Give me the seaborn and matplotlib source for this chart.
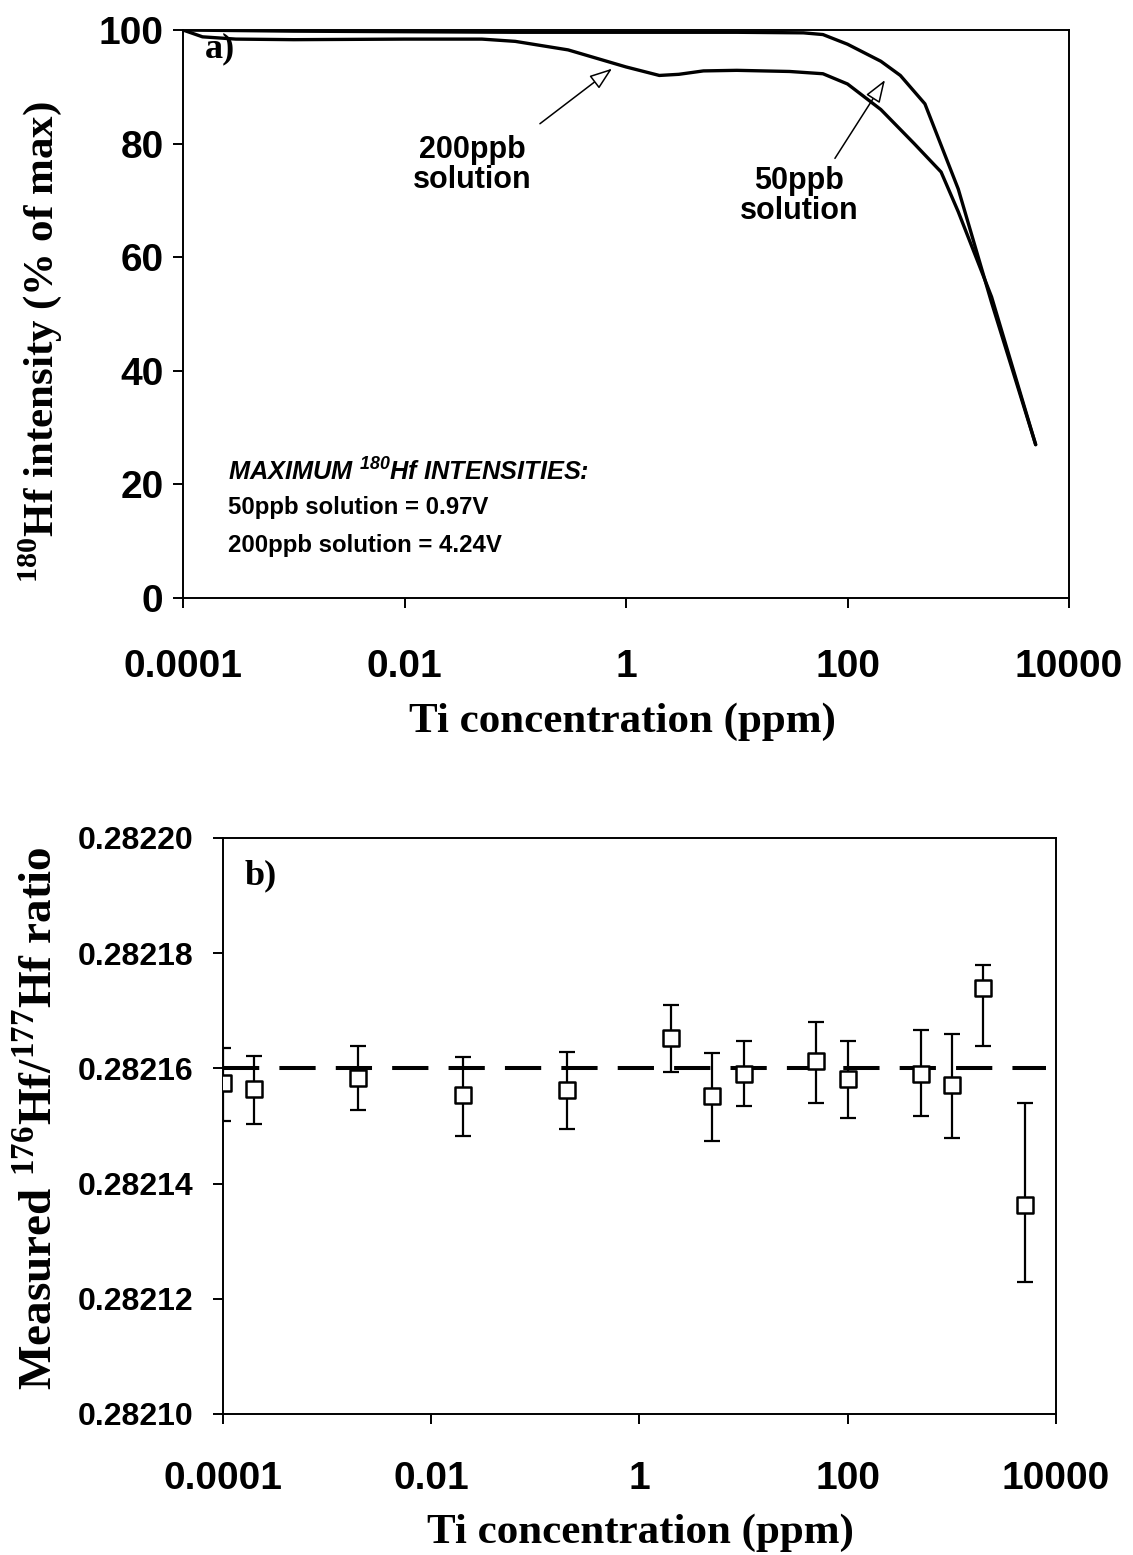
import numpy as np
import pandas as pd
import matplotlib
matplotlib.use('Agg')
import matplotlib.pyplot as plt
import seaborn as sns
from matplotlib.ticker import FixedLocator, NullLocator, FixedFormatter

# ---------------- Panel a) data ----------------
conc_200ppb = [1e-4, 1.5e-4, 3e-4, 1e-3, 1e-2, 0.05, 0.1, 0.3, 1, 2, 3, 5, 10, 30, 60, 100, 200, 400, 700, 1000, 2000, 5000]
int_200ppb = [100, 98.8, 98.4, 98.3, 98.4, 98.4, 98.0, 96.5, 93.5, 92.0, 92.2, 92.8, 92.9, 92.7, 92.3, 90.5, 86.0, 80.0, 75.0, 68.0, 53.0, 27.0]
conc_50ppb = [1e-4, 1e-3, 1e-2, 0.1, 1, 10, 40, 60, 100, 200, 300, 500, 1000, 2000, 5000]
int_50ppb = [100, 99.8, 99.7, 99.6, 99.6, 99.6, 99.5, 99.2, 97.5, 94.5, 92.0, 87.0, 72.0, 52.0, 27.0]

xticks_a = [1e-4, 1e-2, 1, 1e2, 1e4]
xticklabels_a = ['0.0001', '0.01', '1', '100', '10000']
yticks_a = [0, 20, 40, 60, 80, 100]

# ---------------- Panel b) data ----------------
conc_b = [1e-4, 2e-4, 2e-3, 2e-2, 0.2, 2, 5, 10, 50, 100, 500, 1000, 2000, 5000]
ratio_b = [0.2821575, 0.2821564, 0.2821584, 0.2821553, 0.2821563, 0.2821652, 0.2821552,
           0.2821591, 0.2821612, 0.2821582, 0.2821591, 0.2821572, 0.2821740, 0.2821363]
upper_b = [0.2821635, 0.2821622, 0.2821639, 0.2821620, 0.2821628, 0.2821710, 0.2821627,
           0.2821647, 0.2821680, 0.2821647, 0.2821666, 0.2821660, 0.2821780, 0.2821540]
lower_b = [0.2821509, 0.2821503, 0.2821527, 0.2821483, 0.2821495, 0.2821594, 0.2821474,
           0.2821535, 0.2821540, 0.2821514, 0.2821517, 0.2821480, 0.2821639, 0.2821229]
ref_ratio = 0.28216
ref_span = [1e-4, 8e3]
yticks_b = [0.28210, 0.28212, 0.28214, 0.28216, 0.28218, 0.28220]
yticklabels_b = ['0.28210', '0.28212', '0.28214', '0.28216', '0.28218', '0.28220']

# ---------------- style ----------------
sns.set_style('ticks')
plt.rcParams['font.family'] = ['Liberation Sans', 'DejaVu Sans']
plt.rcParams['mathtext.fontset'] = 'custom'
plt.rcParams['mathtext.rm'] = 'Liberation Serif:bold'
plt.rcParams['mathtext.bf'] = 'Liberation Serif:bold'
plt.rcParams['axes.linewidth'] = 1.4
plt.rcParams['axes.edgecolor'] = 'black'
plt.rcParams['text.color'] = 'black'
plt.rcParams['axes.labelcolor'] = 'black'
plt.rcParams['xtick.color'] = 'black'
plt.rcParams['ytick.color'] = 'black'

fig = plt.figure(figsize=(11.33, 15.55), dpi=100)
ax1 = fig.add_axes([0.16152, 0.61543, 0.78200, 0.36527])
ax2 = fig.add_axes([0.19682, 0.09068, 0.73522, 0.37042])

serif_bold = dict(family='Liberation Serif', weight='bold')

# ---------------- Panel a ----------------
df200 = pd.DataFrame({'conc': conc_200ppb, 'intensity': int_200ppb})
df50 = pd.DataFrame({'conc': conc_50ppb, 'intensity': int_50ppb})
sns.lineplot(data=df200, x='conc', y='intensity', ax=ax1, color='black', lw=2.4, estimator=None, sort=False)
sns.lineplot(data=df50, x='conc', y='intensity', ax=ax1, color='black', lw=2.4, estimator=None, sort=False)
ax1.set_xscale('log')
ax1.set_xlim(1e-4, 1e4)
ax1.set_ylim(0, 100)
ax1.xaxis.set_major_locator(FixedLocator(xticks_a))
ax1.xaxis.set_major_formatter(FixedFormatter(xticklabels_a))
ax1.xaxis.set_minor_locator(NullLocator())
ax1.yaxis.set_major_locator(FixedLocator(yticks_a))
ax1.tick_params(axis='both', direction='out', length=7, width=1.4, color='black', labelcolor='black')
ax1.tick_params(axis='x', pad=30)
ax1.tick_params(axis='y', pad=7)
for lab in ax1.get_xticklabels() + ax1.get_yticklabels():
    lab.set_fontsize(28)
    lab.set_fontweight('bold')
    lab.set_fontfamily('Liberation Sans')
for s in ax1.spines.values():
    s.set_visible(True)
    s.set_linewidth(1.4)

ax1.set_xlabel('Ti concentration (ppm)', fontsize=31, **serif_bold)
ax1.xaxis.set_label_coords(0.4955, -0.2183)
ax1.xaxis.label.set_va('center')
ax1.set_ylabel(r'$^{\mathregular{180}}$Hf intensity (% of max)', fontsize=31, **serif_bold)
ax1.yaxis.set_label_coords(-0.1614, 0.45)
ax1.yaxis.label.set_va('center')

ax1.text(0.0248, 0.966, 'a)', transform=ax1.transAxes, ha='left', va='center', fontsize=26, **serif_bold)

arrow_kw = dict(arrowstyle='-|>,head_length=0.7,head_width=0.25', fc='white', ec='black', lw=1.1,
                mutation_scale=20, shrinkA=0, shrinkB=0)
ax1.annotate('', xy=(0.748, 93.2), xytext=(0.167, 83.5), arrowprops=arrow_kw)
ax1.annotate('', xy=(218, 91.2), xytext=(77, 77.4), arrowprops=arrow_kw)
ax1.text(0.0407, 76.3, '200ppb\nsolution', ha='center', va='center', fontsize=22, fontweight='bold', linespacing=1.0)
ax1.text(36.5, 70.8, '50ppb\nsolution', ha='center', va='center', fontsize=22, fontweight='bold', linespacing=1.0)

ax1.text(0.0508, 0.2218, r'MAXIMUM $^{\mathregular{180}}$Hf INTENSITIES:', transform=ax1.transAxes,
         ha='left', va='center', fontsize=18.3, fontweight='bold', fontstyle='italic')
ax1.text(0.0508, 0.1602, '50ppb solution = 0.97V', transform=ax1.transAxes,
         ha='left', va='center', fontsize=17.3, fontweight='bold')
ax1.text(0.0508, 0.0933, '200ppb solution = 4.24V', transform=ax1.transAxes,
         ha='left', va='center', fontsize=17.3, fontweight='bold')

# ---------------- Panel b ----------------
ratio_arr = np.array(ratio_b)
yerr = [ratio_arr - np.array(lower_b), np.array(upper_b) - ratio_arr]
ax2.hlines(ref_ratio, ref_span[0], ref_span[1], colors='black', lw=2.9,
           linestyles=[(0, (9, 5))], zorder=1)
ax2.errorbar(conc_b, ratio_b, yerr=yerr, fmt='none', ecolor='black', elinewidth=1.6,
             capsize=5.8, capthick=1.6, zorder=2)
dfb = pd.DataFrame({'conc': conc_b, 'ratio': ratio_b})
sns.scatterplot(data=dfb, x='conc', y='ratio', ax=ax2, marker='s', s=145, facecolor='white',
                edgecolor='black', linewidth=1.8, zorder=3)
ax2.set_xscale('log')
ax2.set_xlim(1e-4, 1e4)
ax2.set_ylim(0.28210, 0.28220)
ax2.xaxis.set_major_locator(FixedLocator(xticks_a))
ax2.xaxis.set_major_formatter(FixedFormatter(xticklabels_a))
ax2.xaxis.set_minor_locator(NullLocator())
ax2.yaxis.set_major_locator(FixedLocator(yticks_b))
ax2.yaxis.set_major_formatter(FixedFormatter(yticklabels_b))
ax2.tick_params(axis='both', direction='out', length=7, width=1.4, color='black', labelcolor='black')
ax2.tick_params(axis='x', pad=27)
ax2.tick_params(axis='y', pad=14)
for lab in ax2.get_xticklabels():
    lab.set_fontsize(28)
    lab.set_fontweight('bold')
    lab.set_fontfamily('Liberation Sans')
for lab in ax2.get_yticklabels():
    lab.set_fontsize(23)
    lab.set_fontweight('bold')
    lab.set_fontfamily('Liberation Sans')
for s in ax2.spines.values():
    s.set_visible(True)
    s.set_linewidth(1.4)

ax2.set_xlabel('Ti concentration (ppm)', fontsize=31, **serif_bold)
ax2.xaxis.set_label_coords(0.5006, -0.2066)
ax2.xaxis.label.set_va('center')
ax2.set_ylabel(r'Measured $^{\mathregular{176}}$Hf/$^{\mathregular{177}}$Hf ratio', fontsize=34, **serif_bold)
ax2.yaxis.set_label_coords(-0.2197, 0.514)
ax2.yaxis.label.set_va('center')

ax2.text(0.0264, 0.934, 'b)', transform=ax2.transAxes, ha='left', va='center', fontsize=26, **serif_bold)

fig.savefig('out.png', dpi=100, facecolor='white')
